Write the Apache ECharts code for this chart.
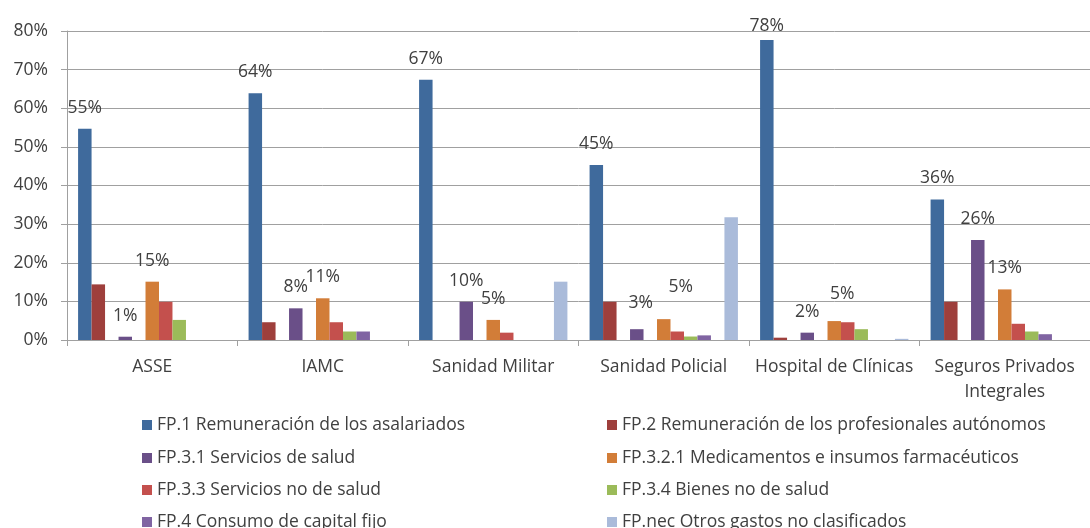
<!DOCTYPE html>
<html>
<head>
<meta charset="utf-8">
<script src="https://cdn.jsdelivr.net/npm/echarts@6/dist/echarts.min.js"></script>
<style>
  html, body { margin: 0; padding: 0; background: #fff; }
  #chart { width: 1090px; height: 528px; }
</style>
</head>
<body>
<div id="chart"></div>
<script>
// categories (x axis)
var categories = ['ASSE', 'IAMC', 'Sanidad Militar', 'Sanidad Policial', 'Hospital de Clínicas', 'Seguros Privados\nIntegrales'];

// series values in %
var fp1 = [54.7, 63.9, 67.4, 45.3, 77.7, 36.4];
var fp2 = [14.4, 4.6, null, 9.9, 0.6, 9.9];
var fp31 = [0.85, 8.2, 9.9, 2.8, 1.9, 25.9];
var fp321 = [15.1, 10.8, 5.2, 5.4, 4.9, 13.1];
var fp33 = [9.9, 4.6, 1.9, 2.2, 4.6, 4.2];
var fp34 = [5.2, 2.2, null, 0.9, 2.8, 2.2];
var fp4 = [null, 2.2, null, 1.2, null, 1.5];
var fpnec = [null, null, 15.1, 31.8, 0.3, null];
var empty = [null, null, null, null, null, null];

var yTicks = [0, 10, 20, 30, 40, 50, 60, 70, 80];

// legend layout: two columns, four rows
var legendLeft = ['FP.1 Remuneración de los asalariados', 'FP.3.1 Servicios de salud',
                  'FP.3.3 Servicios no de salud', 'FP.4 Consumo de capital fijo'];
var legendRight = ['FP.2 Remuneración de los profesionales autónomos', 'FP.3.2.1 Medicamentos e insumos farmacéuticos',
                   'FP.3.4 Bienes no de salud', 'FP.nec Otros gastos no clasificados'];
var legendRowY = [423, 456, 488, 520];

var textColor = '#404040';
var font = 'Open Sans';
var fs = 17.5;

// label nudges for a few crowded labels: key "series:index"
var labelNudge = {
  'fp1:4': [0, 7],
  'fp31:3': [4, -5],
  'fp321:3': [17, -11],
  'fp321:4': [8, -6]
};

function makeData(key, values) {
  return values.map(function (v, i) {
    var n = labelNudge[key + ':' + i];
    if (n) return { value: v, label: { offset: n } };
    return v;
  });
}

function bar(name, key, values, color, withLabel) {
  return {
    name: name,
    type: 'bar',
    barGap: 0,
    barCategoryGap: '13%',
    data: makeData(key, values),
    itemStyle: { color: color },
    label: {
      show: !!withLabel,
      position: 'top',
      distance: 12,
      color: textColor,
      fontFamily: font,
      fontSize: fs,
      formatter: function (p) { return p.value == null ? '' : Math.round(p.value) + '%'; }
    }
  };
}

function legendItem(name, left, cy) {
  return {
    orient: 'horizontal', left: left, top: cy - 8, padding: 0,
    itemWidth: 10, itemHeight: 10, icon: 'rect', itemGap: 0,
    textStyle: { fontFamily: font, fontSize: fs, color: textColor, lineHeight: 20 },
    data: [name]
  };
}

var legends = [];
legendLeft.forEach(function (n, i) { legends.push(legendItem(n, 142, legendRowY[i])); });
legendRight.forEach(function (n, i) { legends.push(legendItem(n, 607, legendRowY[i])); });

var chart = echarts.init(document.getElementById('chart'));
chart.setOption({
  animation: false,
  textStyle: { fontFamily: font, color: textColor },
  grid: { left: 67, top: 31, width: 1035, bottom: 188 },
  legend: legends,
  xAxis: {
    type: 'category',
    data: categories,
    axisLine: { lineStyle: { color: '#a0a0a0', width: 1 } },
    axisTick: { show: true, length: 6, lineStyle: { color: '#a0a0a0' } },
    axisLabel: {
      interval: 0, margin: 15, fontSize: fs, lineHeight: 25,
      color: textColor, fontFamily: font
    }
  },
  yAxis: {
    type: 'value',
    min: yTicks[0],
    max: yTicks[yTicks.length - 1],
    interval: 10,
    axisLine: { show: true, lineStyle: { color: '#a0a0a0', width: 1 } },
    axisTick: { show: true, length: 6, lineStyle: { color: '#a0a0a0' } },
    splitLine: { lineStyle: { color: '#a0a0a0', width: 1 } },
    axisLabel: {
      margin: 19, fontSize: fs, color: textColor, fontFamily: font,
      formatter: '{value}%'
    }
  },
  series: [
    bar('FP.1 Remuneración de los asalariados', 'fp1', fp1, '#3F6A9C', true),
    bar('FP.2 Remuneración de los profesionales autónomos', 'fp2', fp2, '#9E3F3C', false),
    bar('FP.3', 'x1', empty, '#ffffff', false),
    bar('FP.3.1 Servicios de salud', 'fp31', fp31, '#6A4F88', true),
    bar('FP.3.2', 'x2', empty, '#ffffff', false),
    bar('FP.3.2.1 Medicamentos e insumos farmacéuticos', 'fp321', fp321, '#D27D38', true),
    bar('FP.3.3 Servicios no de salud', 'fp33', fp33, '#C4504D', false),
    bar('FP.3.4 Bienes no de salud', 'fp34', fp34, '#9BBB59', false),
    bar('FP.4 Consumo de capital fijo', 'fp4', fp4, '#8064A2', false),
    bar('FP.5', 'x3', empty, '#ffffff', false),
    bar('FP.nec Otros gastos no clasificados', 'fpnec', fpnec, '#AABBDA', false)
  ]
});
</script>
</body>
</html>
